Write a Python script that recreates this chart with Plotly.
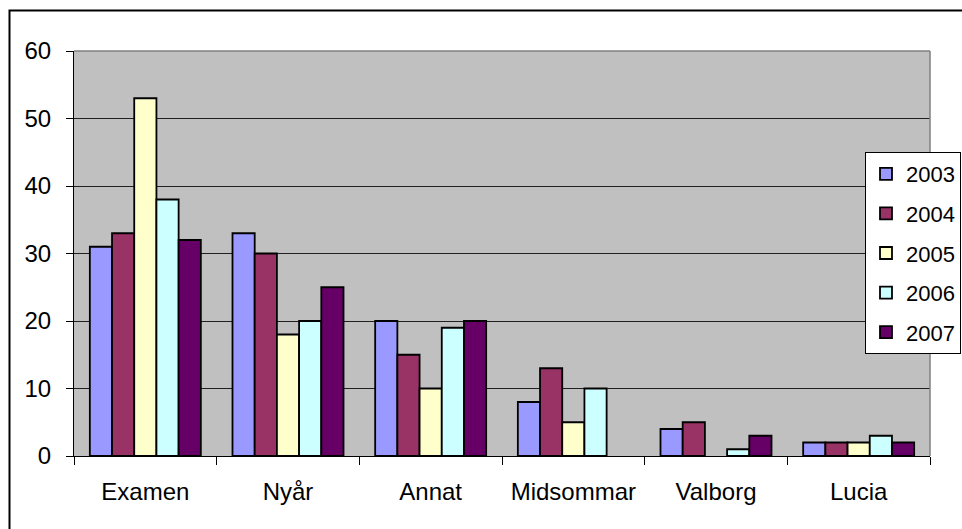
import plotly.graph_objects as go

categories = ["Examen", "Nyår", "Annat", "Midsommar", "Valborg", "Lucia"]
years = ["2003", "2004", "2005", "2006", "2007"]
v2003 = [31, 33, 20, 8, 4, 2]
v2004 = [33, 30, 15, 13, 5, 2]
v2005 = [53, 18, 10, 5, None, 2]
v2006 = [38, 20, 19, 10, 1, 3]
v2007 = [32, 25, 20, None, 3, 2]
series = [v2003, v2004, v2005, v2006, v2007]
colors = ["#9999FF", "#993366", "#FFFFCC", "#CCFFFF", "#660066"]
yticks = [0, 10, 20, 30, 40, 50, 60]

FONT = "Liberation Sans, Arial, sans-serif"

fig = go.Figure()
for i, (yr, vals) in enumerate(zip(years, series)):
    fig.add_trace(go.Bar(
        x=categories, y=vals, name=yr,
        marker=dict(color=colors[i], line=dict(color="black", width=1.8)),
        legendgroup=yr,
    ))

W, H = 962, 529
ml, mr, mt, mb = 74, 32, 51, 73
pw, ph = W - ml - mr, H - mt - mb

def px(x):
    return (x - ml) / pw

def py(y):
    return (H - mb - y) / ph

fig.update_layout(
    width=W, height=H,
    margin=dict(l=ml, r=mr, t=mt, b=mb, autoexpand=False),
    paper_bgcolor="white",
    plot_bgcolor="#C0C0C0",
    barmode="group",
    bargap=0.222,
    bargroupgap=0,
    font=dict(family=FONT, size=24, color="black"),
    showlegend=True,
    legend=dict(
        x=px(865), y=py(152), xanchor="left", yanchor="top",
        bgcolor="white", bordercolor="black", borderwidth=1,
        font=dict(family=FONT, size=22, color="black"),
        traceorder="grouped", tracegroupgap=8,
        itemwidth=30,
    ),
    xaxis=dict(
        type="category",
        tickson="boundaries",
        ticks="outside", ticklen=8, tickcolor="black", tickwidth=1,
        showgrid=False,
        showline=True, linecolor="black", linewidth=1,
        ticklabelstandoff=14,
        tickfont=dict(family=FONT, size=24),
    ),
    yaxis=dict(
        range=[0, 60],
        tickvals=yticks,
        ticks="outside", ticklen=7, tickcolor="black", tickwidth=1,
        showgrid=True, gridcolor="#202020", gridwidth=1,
        showline=True, linecolor="black", linewidth=1,
        zeroline=False,
        ticklabelstandoff=10,
        tickfont=dict(family=FONT, size=24),
    ),
    shapes=[
        dict(type="line", xref="paper", yref="paper", x0=0, x1=1, y0=1, y1=1,
             line=dict(color="#808080", width=1.5), layer="above"),
        dict(type="line", xref="paper", yref="paper", x0=1, x1=1, y0=0, y1=1,
             line=dict(color="#808080", width=1.5), layer="above"),
        dict(type="rect", xref="paper", yref="paper",
             x0=px(9.5), x1=px(1100), y0=py(700), y1=py(10.5),
             line=dict(color="black", width=2), layer="above"),
    ],
)

fig.write_html("out.html", config={"displayModeBar": False},
               post_script="document.body.style.margin='0';")
